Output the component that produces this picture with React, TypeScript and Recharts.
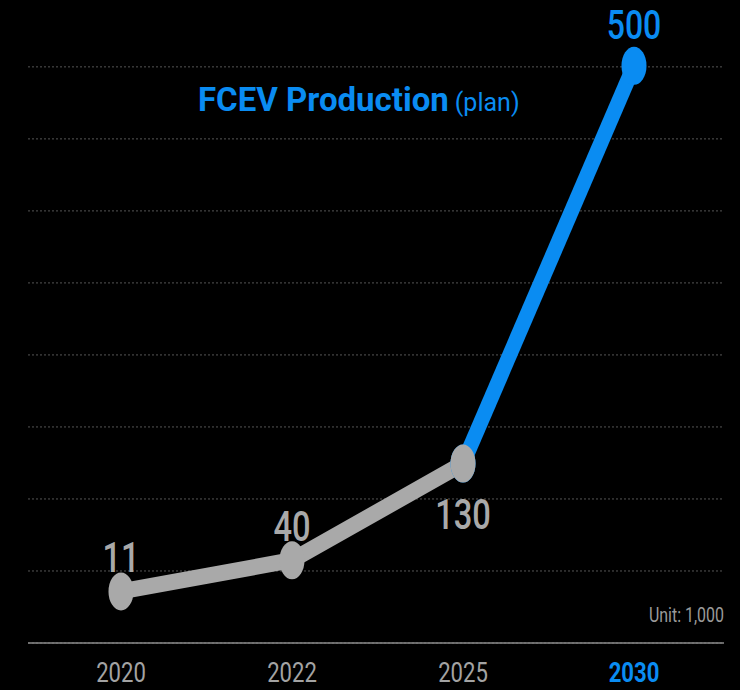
import React from "react";
import { LineChart, Line, XAxis, YAxis, CartesianGrid, LabelList } from "recharts";

const years = ["2020", "2022", "2025", "2030"];
const actual = [11, 40, 130, null];
const plan = [null, null, 130, 500];
const gridTicks = [-37, 30, 97, 164, 231, 298, 365, 432, 499];

const GRAY = "#a9a9a9";
const BLUE = "#0a8cf2";
const FONT = "Roboto, 'Noto Sans', sans-serif";

const data = years.map((year, i) => ({ year, actual: actual[i], plan: plan[i] }));

// squeezed text, the original lettering is narrow and tall
function Narrow({ x, y, sx, anchor = "middle", children, ...rest }: any) {
  return (
    <text
      transform={`translate(${x},${y}) scale(${sx},1)`}
      textAnchor={anchor}
      fontFamily={FONT}
      {...rest}
    >
      {children}
    </text>
  );
}

const dot = (color: string) => (props: any) => {
  const { cx, cy, value, index } = props;
  if (value == null || cx == null) return <g key={`e-${index}`} />;
  return <ellipse key={`e-${index}`} cx={cx} cy={cy} rx={12.5} ry={19} fill={color} />;
};

function XTick({ x, y, payload }: any) {
  const last = payload.value === years[years.length - 1];
  return (
    <Narrow
      x={x}
      y={y + 39}
      sx={0.79}
      fontSize={28}
      fontWeight={last ? 700 : 400}
      fill={last ? BLUE : "#a3a3a3"}
    >
      {payload.value}
    </Narrow>
  );
}

export default function App() {
  return (
    <div style={{ position: "absolute", left: 0, top: 0, width: 740, height: 690, background: "#000" }}>
      <LineChart width={740} height={690} data={data} margin={{ top: 40, right: 16, bottom: 0, left: 28 }}>
        <CartesianGrid
          vertical={false}
          horizontalValues={gridTicks}
          stroke="#555"
          strokeDasharray="2 2"
        />
        <XAxis
          dataKey="year"
          interval={0}
          height={47}
          padding={{ left: 93, right: 90 }}
          axisLine={{ stroke: "#8a8a8a", strokeWidth: 1.5 }}
          tickLine={false}
          tickSize={0}
          tickMargin={0}
          tick={<XTick />}
        />
        <YAxis hide domain={[-37, 524]} ticks={gridTicks} />
        <Line
          dataKey="plan"
          stroke={BLUE}
          strokeWidth={15}
          dot={dot(BLUE)}
          activeDot={false}
          isAnimationActive={false}
        >
          <LabelList
            dataKey="plan"
            content={(p: any) =>
              p.value == null || actual[p.index] != null ? null : (
                <Narrow x={p.x} y={p.y - 27} sx={0.8} fontSize={40} fontWeight={500} fill={BLUE}>
                  {p.value}
                </Narrow>
              )
            }
          />
        </Line>
        <Line
          dataKey="actual"
          stroke={GRAY}
          strokeWidth={16}
          dot={dot(GRAY)}
          activeDot={false}
          isAnimationActive={false}
        >
          <LabelList
            dataKey="actual"
            content={(p: any) =>
              p.value == null ? null : (
                <Narrow
                  x={p.x}
                  y={p.index === 2 ? p.y + 66 : p.y - 19}
                  sx={0.76}
                  fontSize={43}
                  fontWeight={500}
                  fill={GRAY}
                >
                  {p.value}
                </Narrow>
              )
            }
          />
        </Line>
      </LineChart>
      <svg width={740} height={690} style={{ position: "absolute", left: 0, top: 0, pointerEvents: "none" }}>
        <text x={198} y={111} fontFamily={FONT} fontSize={33} fontWeight={700} fill={BLUE}>
          FCEV Production
          <tspan dx={6} fontSize={25} fontWeight={400}>(plan)</tspan>
        </text>
        <Narrow x={724} y={622} sx={0.76} anchor="end" fontSize={21} fill="#9a9a9a">
          Unit: 1,000
        </Narrow>
      </svg>
    </div>
  );
}
